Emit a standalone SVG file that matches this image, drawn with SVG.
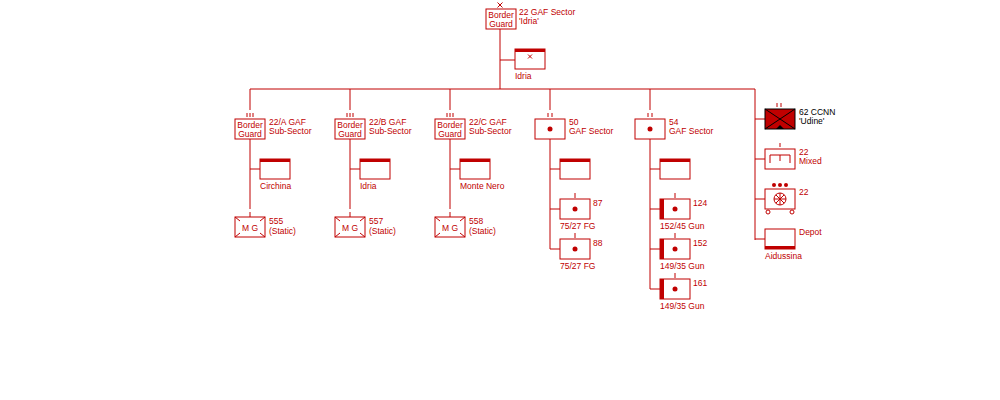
<svg xmlns="http://www.w3.org/2000/svg" width="1000" height="400" viewBox="0 0 1000 400">
<style>
.b{fill:#fff;stroke:#c00000;stroke-width:1}
.l{stroke:#c00000;stroke-width:1;fill:none}
.f{fill:#c00000}
text{font-family:"Liberation Sans",Arial,sans-serif;font-size:8.5px;fill:#c00000}
.c{text-anchor:middle}
</style>
<defs>
<g id="mg"><rect class="b" x="0" y="0" width="30" height="20"/><path class="l" d="M0,0l5,4M30,0l-5,4M0,20l5,-4M30,20l-5,-4"/><text class="c" x="15" y="14" font-size="10">M G</text></g>
<g id="bg"><rect class="b" x="0" y="0" width="30" height="20"/><text class="c" x="15" y="9">Border</text><text class="c" x="15" y="17.5">Guard</text></g>
<g id="hq"><rect class="b" x="0" y="0" width="30" height="20"/><rect class="f" x="0" y="0" width="30" height="3"/></g>
<g id="art"><rect class="b" x="0" y="0" width="30" height="20"/><circle class="f" cx="15" cy="10" r="2.5"/></g>
<g id="gun"><rect class="b" x="0" y="0" width="30" height="20"/><rect class="f" x="0" y="0" width="4" height="20"/><circle class="f" cx="15" cy="10" r="2.5"/></g>
</defs>
<g id="connectors">
<path class="l" d="M500,29V89M500,60H515M250,89H755M250,89V110M350,89V110M450,89V110M550,89V110M650,89V110M755,89V240"/>
<path class="l" d="M250,139V209M250,169H260M250,212V217M350,139V209M350,169H360M350,212V217M450,139V209M450,169H460M450,212V217"/>
<path class="l" d="M550,139V249M550,169H560M550,209H560M550,249H560M575,193V198M575,233V238"/>
<path class="l" d="M650,139V289M650,169H660M650,209H660M650,249H660M650,289H660M675,193V198M675,233V238M675,273V278"/>
<path class="l" d="M755,119H765M755,159H765M755,199H765M755,239H765"/>
</g>
<g id="n22"><use href="#bg" x="486" y="9"/><path class="l" d="M497.5,2.5l5,5M502.5,2.5l-5,5"/><text x="519" y="15">22 GAF Sector</text><text x="519" y="24">'Idria'</text></g>
<g id="nIdria"><use href="#hq" x="515" y="49"/><path class="l" d="M528,54.5l4,4M532,54.5l-4,4"/><text x="515" y="79">Idria</text></g>
<g id="n22A"><use href="#bg" x="235" y="119"/><path class="l" d="M247,113V117M250,113V117M253,113V117"/><text x="269" y="125">22/A GAF</text><text x="269" y="134">Sub-Sector</text></g>
<g id="n22B"><use href="#bg" x="335" y="119"/><path class="l" d="M347,113V117M350,113V117M353,113V117"/><text x="369" y="125">22/B GAF</text><text x="369" y="134">Sub-Sector</text></g>
<g id="n22C"><use href="#bg" x="435" y="119"/><path class="l" d="M447,113V117M450,113V117M453,113V117"/><text x="469" y="125">22/C GAF</text><text x="469" y="134">Sub-Sector</text></g>
<g id="hqA"><use href="#hq" x="260" y="159"/><text x="260" y="189">Circhina</text></g>
<g id="hqB"><use href="#hq" x="360" y="159"/><text x="360" y="189">Idria</text></g>
<g id="hqC"><use href="#hq" x="460" y="159"/><text x="460" y="189">Monte Nero</text></g>
<g id="mg555"><use href="#mg" x="235" y="217"/><text x="269" y="224">555</text><text x="269" y="234">(Static)</text></g>
<g id="mg557"><use href="#mg" x="335" y="217"/><text x="369" y="224">557</text><text x="369" y="234">(Static)</text></g>
<g id="mg558"><use href="#mg" x="435" y="217"/><text x="469" y="224">558</text><text x="469" y="234">(Static)</text></g>
<g id="n50"><use href="#art" x="535" y="119"/><path class="l" d="M548,113V117M552,113V117"/><text x="569" y="125">50</text><text x="569" y="134">GAF Sector</text></g>
<g id="hq50"><use href="#hq" x="560" y="159"/></g>
<g id="n87"><use href="#art" x="560" y="199"/><text x="593" y="206">87</text><text x="560" y="229">75/27 FG</text></g>
<g id="n88"><use href="#art" x="560" y="239"/><text x="593" y="246">88</text><text x="560" y="269">75/27 FG</text></g>
<g id="n54"><use href="#art" x="635" y="119"/><path class="l" d="M648,113V117M652,113V117"/><text x="669" y="125">54</text><text x="669" y="134">GAF Sector</text></g>
<g id="hq54"><use href="#hq" x="660" y="159"/></g>
<g id="n124"><use href="#gun" x="660" y="199"/><text x="693" y="206">124</text><text x="660" y="229">152/45 Gun</text></g>
<g id="n152"><use href="#gun" x="660" y="239"/><text x="693" y="246">152</text><text x="660" y="269">149/35 Gun</text></g>
<g id="n161"><use href="#gun" x="660" y="279"/><text x="693" y="286">161</text><text x="660" y="309">149/35 Gun</text></g>
<g id="n62"><rect x="765" y="109" width="30" height="20" fill="#c00000" stroke="#000"/><path d="M765,109L795,129M795,109L765,129" stroke="#000"/><path d="M776,129l4,-4l4,4z" fill="#000"/><path class="l" d="M777,103V107M781,103V107" stroke="#000"/><text x="799" y="115" fill="#000" style="fill:#000">62 CCNN</text><text x="799" y="124" style="fill:#000">'Udine'</text></g>
<g id="nMixed"><rect class="b" x="765" y="149" width="30" height="20"/><path class="l" d="M780,143V147M770,163V155H790V163M780,155V161"/><text x="799" y="155">22</text><text x="799" y="164">Mixed</text></g>
<g id="n22art"><rect class="b" x="765" y="189" width="30" height="20"/><circle class="f" cx="774" cy="185" r="2"/><circle class="f" cx="780" cy="185" r="2"/><circle class="f" cx="786" cy="185" r="2"/><circle class="l" cx="780" cy="199" r="6"/><path class="l" d="M774,199H786M780,193V205M775.8,194.8L784.2,203.2M784.2,194.8L775.8,203.2"/><circle class="b" cx="768" cy="212" r="2"/><circle class="b" cx="792" cy="212" r="2"/><text x="799" y="195">22</text></g>
<g id="nDepot"><rect class="b" x="765" y="229" width="30" height="20"/><rect class="f" x="765" y="246" width="30" height="3"/><text x="799" y="235">Depot</text><text x="765" y="259">Aidussina</text></g>
</svg>
